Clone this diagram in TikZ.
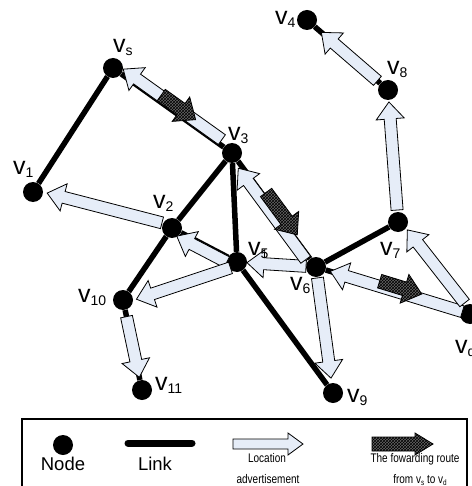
\documentclass[tikz,border=0pt]{standalone}
\usepackage{fontspec}
\setmainfont{Liberation Sans}
\usetikzlibrary{calc,patterns}

\definecolor{advfill}{RGB}{230,237,248}

\newcommand\bashaft{6pt}
\newcommand\bahead{14pt}
\newcommand\balen{17pt}

% block arrow: style, from, to, gap at start, gap at end, side shift
\newcommand\blockarrow[6]{%
  \coordinate (ba-p) at ($(#2)!#4!(#3)$);
  \coordinate (ba-s) at ($(ba-p)!#6!90:(#3)$);
  \coordinate (ba-q) at ($(#3)!#5!(#2)$);
  \coordinate (ba-e) at ($(ba-q)!#6!-90:(#2)$);
  \coordinate (ba-h) at ($(ba-e)!\balen!(ba-s)$);
  \draw[#1] ($(ba-s)!\bashaft!90:(ba-e)$) -- ($(ba-h)!\bashaft!-90:(ba-s)$)
    -- ($(ba-h)!\bahead!-90:(ba-s)$) -- (ba-e) -- ($(ba-h)!\bahead!90:(ba-s)$)
    -- ($(ba-h)!\bashaft!90:(ba-s)$) -- ($(ba-s)!\bashaft!-90:(ba-e)$) -- cycle;}

\newcommand\vlab[1]{v\raisebox{-3pt}{\fontsize{14}{14}\selectfont #1}}
\newcommand\vsub[1]{\raisebox{-2pt}{\fontsize{8}{8}\selectfont #1}}
\newcommand\narrow[1]{\scalebox{0.8}[1]{#1}}

\begin{document}
\begin{tikzpicture}[x=1pt, y=-1pt,
    vertex/.style={circle, fill=black, minimum size=20pt, inner sep=0pt},
    link/.style={line width=5.5pt},
    adv/.style={draw=black, line width=0.8pt, fill=advfill, line join=miter},
    route/.style={draw=black, line width=0.8pt, preaction={fill=black!60},
      pattern=crosshatch, pattern color=black},
    lab/.style={font=\fontsize{25}{25}\selectfont, inner sep=0pt, anchor=base west},
    keytext/.style={font=\fontsize{18.5}{18.5}\selectfont, inner sep=0pt, anchor=base},
    keysmall/.style={font=\fontsize{12.5}{12.5}\selectfont, inner sep=0pt, anchor=base}]

        \useasboundingbox (0,0) rectangle (471,486);

        % nodes
        \node[vertex] (vs) at (113,68) {};
        \node[vertex] (v1) at (33,192) {};
        \node[vertex] (v2) at (172,228) {};
        \node[vertex] (v3) at (232,153) {};
        \node[vertex] (v4) at (307,20) {};
        \node[vertex] (v5) at (237,262) {};
        \node[vertex] (v6) at (316,267) {};
        \node[vertex] (v7) at (398,222) {};
        \node[vertex] (v8) at (388,90) {};
        \node[vertex] (v9) at (333,393) {};
        \node[vertex] (v10) at (123,300) {};
        \node[vertex] (v11) at (142,390) {};
        \node[vertex] (vd) at (470,314) {};

        % links
        \draw[link] (vs) -- (v1);
        \draw[link] (vs) -- (v3);
        \draw[link] (v3) -- (v2);
        \draw[link] (v2) -- (v10);
        \draw[link] (v3) -- (v5);
        \draw[link] (v2) -- (v5);
        \draw[link] (v5) -- (v9);
        \draw[link] (v3) -- (v6);
        \draw[link] (v6) -- (v7);
        \draw[link] (v6) -- (vd);
        \draw[link] (v8) -- (v4);
        \draw[link] (v10) -- (v11);

        % location advertisement
        \blockarrow{adv}{v3}{vs}{16pt}{9pt}{-5pt}
        \blockarrow{adv}{v2}{v1}{11pt}{14pt}{-2.5pt}
        \blockarrow{adv}{v5}{v2}{9pt}{8pt}{5pt}
        \blockarrow{adv}{v5}{v10}{8pt}{13pt}{3.5pt}
        \blockarrow{adv}{v6}{v5}{10pt}{10pt}{0pt}
        \blockarrow{adv}{v6}{v3}{12pt}{16pt}{4pt}
        \blockarrow{adv}{v10}{v11}{17pt}{13pt}{0pt}
        \blockarrow{adv}{v6}{v9}{11pt}{15pt}{0pt}
        \blockarrow{adv}{vd}{v6}{8pt}{15pt}{0pt}
        \blockarrow{adv}{vd}{v7}{12pt}{12pt}{-2.5pt}
        \blockarrow{adv}{v7}{v8}{12pt}{12pt}{0pt}
        \blockarrow{adv}{v8}{v4}{14pt}{19pt}{0pt}

        % forwarding route
        \def\bashaft{7pt}\def\bahead{15pt}\def\balen{18pt}
        \blockarrow{route}{vs}{v3}{55pt}{49pt}{6pt}
        \blockarrow{route}{v3}{v6}{52pt}{37pt}{4pt}
        \blockarrow{route}{v6}{vd}{65pt}{52pt}{5pt}

        \node[lab] (lvs) at (113,53) {\vlab{s}};
        \node[lab] (lv1) at (13,175) {\vlab{1}};
        \node[lab] (lv2) at (153,208) {\vlab{2}};
        \node[lab] (lv3) at (228,141) {\vlab{3}};
        \node[lab] (lv4) at (275,25) {\vlab{4}};
        \node[lab] (lv5) at (248,255) {\vlab{5}};
        \node[lab] (lv6) at (290,290) {\vlab{6}};
        \node[lab] (lv7) at (380,255) {\vlab{7}};
        \node[lab] (lv8) at (387,75) {\vlab{8}};
        \node[lab] (lv9) at (347,402) {\vlab{9}};
        \node[lab] (lv10) at (78,302) {\vlab{10}};
        \node[lab] (lv11) at (155,390) {\vlab{11}};
        \node[lab] (lvd) at (455,353) {\vlab{d}};

        % legend
        \draw[line width=1.2pt] (22,419) rectangle (467,492);
        \node[vertex] (keynode) at (63,445) {};
        \node[keytext] (keynodetext) at (63,470) {Node};
        \coordinate (keylinka) at (128,443);
        \coordinate (keylinkb) at (192,443);
        \draw[link, line width=7pt, line cap=round] (keylinka) -- (keylinkb);
        \node[keytext] (keylinktext) at (155,470) {Link};
        \coordinate (keyadva) at (233,444);
        \coordinate (keyadvb) at (303,444);
        \def\bashaft{5pt}\def\bahead{11pt}\def\balen{15pt}
        \blockarrow{adv}{keyadva}{keyadvb}{0pt}{0pt}{0pt}
        \node[keysmall] (keyadvtext) at (267,462) {\narrow{Location}};
        \node[keysmall] (keyadvtextb) at (268,483) {\narrow{advertisement}};
        \coordinate (keyroutea) at (372,444);
        \coordinate (keyrouteb) at (433,444);
        \def\bashaft{7pt}\def\bahead{11pt}\def\balen{18pt}
        \blockarrow{route}{keyroutea}{keyrouteb}{0pt}{0pt}{0pt}
        \node[keysmall] (keyroutetext) at (415,462) {\narrow{The fowarding route}};
        \node[keysmall] (keyroutetextb) at (420,483) {\narrow{from v\vsub{s} to v\vsub{d}}};

\end{tikzpicture}
\end{document}
